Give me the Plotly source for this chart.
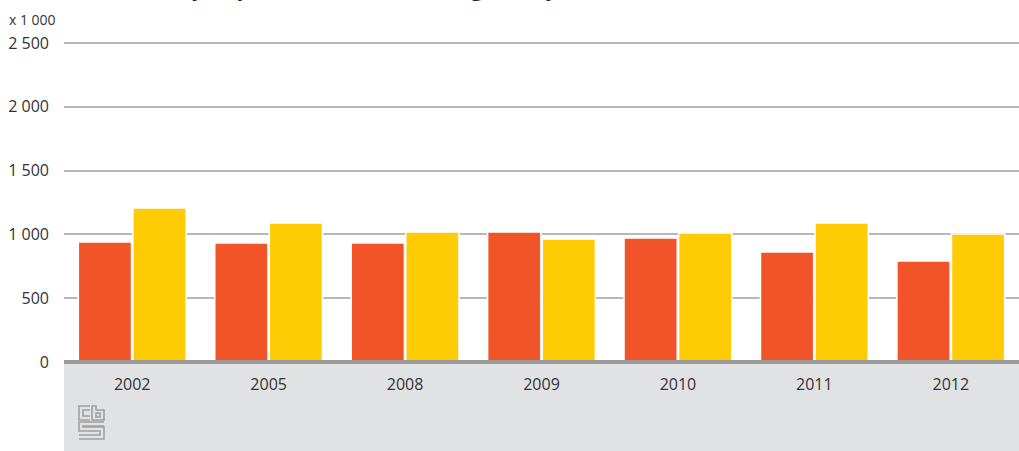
"""Holiday trips of the Dutch in Belgium by season (x 1 000)."""
import plotly.graph_objects as go

# data
years = ["2002", "2005", "2008", "2009", "2010", "2011", "2012"]
season_a = [940, 933, 933, 1019, 972, 862, 791]
season_b = [1207, 1089, 1019, 964, 1011, 1089, 1003]
ytick_vals = [0, 500, 1000, 1500, 2000, 2500]
ytick_text = ["0", "500", "1 000", "1 500", "2 000", "2 500"]

RED = "#f05428"
YELLOW = "#ffcb05"
GRID = "#b8b8b8"
AXIS = "#999999"
BAND = "#e1e2e4"
TEXT = "#333333"
FONT = "Open Sans"

W, H = 1019, 451
L, R, T, B = 64, 0, 36, 89
plot_h = H - T - B
# 2 500 sits at pixel row 43, zero at 362
y_top = 2500 * plot_h / (362 - 43)


def py(pix):
    # pixel row -> paper y
    return (H - B - pix) / plot_h


def px_(pix):
    return (pix - L) / (W - L - R)


fig = go.Figure()
fig.add_bar(x=years, y=season_a, marker_color=RED, marker_line_color="white",
            marker_line_width=1.5, name="a")
fig.add_bar(x=years, y=season_b, marker_color=YELLOW, marker_line_color="white",
            marker_line_width=1.5, name="b")

shapes = [
    # grey band under the axis
    dict(type="rect", xref="paper", yref="paper", x0=0, x1=1, y0=py(363), y1=py(H + 2),
         fillcolor=BAND, line_width=0, layer="below"),
    # base line
    dict(type="line", xref="paper", yref="paper", x0=0, x1=1, y0=py(362), y1=py(362),
         line=dict(color=AXIS, width=4), layer="above"),
]

# cbs logo, roughly traced
logo = [
    # c
    "M 90 406 L 79 406 L 79 420 L 90 420",
    "M 90 410 L 83 410 L 83 416 L 90 416",
    # b
    "M 92 406 L 92 420 L 104 420 L 104 410 L 96 410 L 96 406 Z",
    "M 96 413 L 100 413 L 100 417 L 96 417 Z",
    # s
    "M 104 422 L 79 422 L 79 431 L 100 431 L 100 435 L 79 435",
    "M 104 426 L 83 426 L 83 427 L 104 427 L 104 439 L 79 439",
]
for p in logo:
    toks = p.split()
    out = []
    i = 0
    while i < len(toks):
        t = toks[i]
        if t in ("M", "L"):
            x = px_(float(toks[i + 1]))
            y = py(float(toks[i + 2]))
            out.append(f"{t} {x:.5f} {y:.5f}")
            i += 3
        else:
            out.append(t)
            i += 1
    shapes.append(dict(type="path", xref="paper", yref="paper", path=" ".join(out),
                       line=dict(color="#a0a0a0", width=1.6), layer="above"))

fig.update_layout(
    width=W, height=H,
    margin=dict(l=L, r=R, t=T, b=B),
    barmode="group", bargap=0.2, bargroupgap=0.025,
    showlegend=False,
    plot_bgcolor="white", paper_bgcolor="white",
    font=dict(family=FONT, size=16, color=TEXT),
    shapes=shapes,
    annotations=[
        dict(text="<b>Holiday trips of the Dutch in Belgium by season</b>",
             xref="paper", yref="paper", x=px_(380), y=py(4), xanchor="center",
             yanchor="bottom", showarrow=False, font=dict(size=22, color="#222222")),
        dict(text="x 1 000", xref="paper", yref="paper", x=px_(7), y=py(19),
             xanchor="left", yanchor="middle", showarrow=False,
             font=dict(size=14, color=TEXT)),
    ],
)
fig.update_xaxes(showgrid=False, showline=False, ticks="", tickfont=dict(size=16),
                 ticklabelstandoff=11)
fig.update_yaxes(range=[0, y_top], tickvals=ytick_vals, ticktext=ytick_text,
                 showgrid=True, gridcolor=GRID, gridwidth=1.5, zeroline=False,
                 showline=False, ticks="", ticklabelstandoff=14, tickfont=dict(size=16))

# the page body has a default 8px margin; drop it so the figure sits at 0,0
fig.write_html("out.html", config={"displayModeBar": False},
               post_script="document.body.style.margin='0';")
